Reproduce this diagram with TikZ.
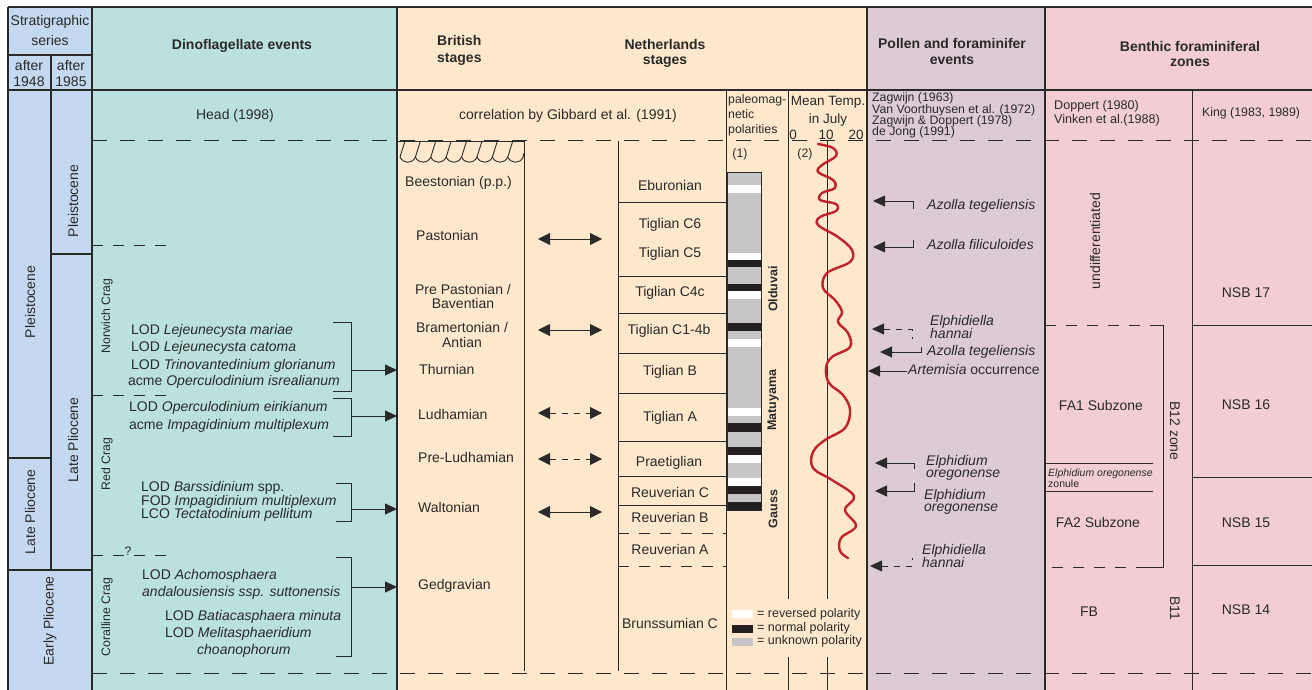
\documentclass[tikz,border=0pt]{standalone}
\usepackage{fontspec}
\setmainfont{Liberation Sans}
\usetikzlibrary{arrows.meta}
\definecolor{ink}{HTML}{2A2A2A}
\definecolor{cblue}{HTML}{C4D8EF}
\definecolor{cteal}{HTML}{BAE1DE}
\definecolor{corange}{HTML}{FFE8CB}
\definecolor{cmauve}{HTML}{DCCBD5}
\definecolor{cpink}{HTML}{F2CED3}
\definecolor{cred}{HTML}{C4222B}
\definecolor{cgray}{HTML}{C6C6C8}
\definecolor{cblack}{HTML}{231F20}
\begin{document}
\begin{tikzpicture}[x=1pt,y=-1pt,
  t/.style={inner sep=0pt, text=ink, font=\fontsize{14}{16}\selectfont},
  tl/.style={t, anchor=mid west},
  tb/.style={inner sep=0pt, text=ink, font=\fontsize{14}{16}\selectfont\bfseries},
  ts/.style={inner sep=0pt, text=ink, font=\fontsize{12.3}{13}\selectfont},
  tsl/.style={ts, anchor=mid west},
  tsb/.style={inner sep=0pt, text=ink, font=\fontsize{12.5}{13}\selectfont\bfseries},
  ti/.style={tl, font=\fontsize{14}{16}\selectfont\itshape},
  ln/.style={draw=ink, line width=0.9pt},
  thk/.style={draw=ink, line width=1.5pt},
  dsh/.style={draw=ink, line width=1pt, dash pattern=on 15pt off 13pt},
  dshs/.style={draw=ink, line width=1pt, dash pattern=on 11pt off 10pt},
  dsha/.style={draw=ink, line width=0.9pt, dash pattern=on 6pt off 6pt},
  tip/.style={-{Triangle[length=12pt,width=11pt]}},
  ttip/.style={{Triangle[length=12pt,width=11pt]}-},
  dtip/.style={{Triangle[length=12pt,width=12pt]}-{Triangle[length=12pt,width=12pt]}}
]
\useasboundingbox (0,0) rectangle (1312,690);
% backgrounds
\fill[white] (0,0) rectangle (1312,690);
\fill[cblue] (8,7) rectangle (92,690);
\fill[cteal] (92,7) rectangle (397,690);
\fill[corange] (397,7) rectangle (867,690);
\fill[cmauve] (867,7) rectangle (1045,690);
\fill[cpink] (1045,7) rectangle (1312,690);

% main frame lines
\draw[thk] (8,7) -- (1312,7);
\draw[thk] (8,90) -- (1312,90);
\draw[thk] (8,7) -- (8,690);
\draw[thk] (92,7) -- (92,690);
\draw[thk] (397,7) -- (397,690);
\draw[thk] (867,7) -- (867,690);
\draw[thk] (1045,7) -- (1045,690);
% stratigraphic series cells
\draw[thk] (8,55) -- (92,55);
\draw[thk] (51,55) -- (51,570);
\draw[thk] (51,254) -- (92,254);
\draw[thk] (8,458) -- (51,458);
\draw[thk] (8,570) -- (92,570);
% inner columns
\draw[ln] (726,90) -- (726,690);
\draw[ln] (788,90) -- (788,599);
\draw[ln] (788,657) -- (788,690);
\draw[ln] (827,141) -- (827,599);
\draw[ln] (827,657) -- (827,690);
\draw[ln] (1192,90) -- (1192,690);
\draw[ln] (524,141) -- (524,671);
\draw[ln] (618,141) -- (618,671);

% long dashed lines
\draw[dsh] (92,141) -- (1312,141);
\draw[dsh] (92,673) -- (1312,673);
% short dashed in dinoflagellate column
\draw[dshs] (92,245) -- (176,245);
\draw[dshs] (92,395) -- (172,395);
\draw[dshs] (92,555) -- (168,555);
\node[ts] (qm) at (128,551) {?};

% header texts
\node[t] (h1a) at (50,22) {Stratigraphic};
\node[t] (h1b) at (50,40) {series};
\node[t] (h2a) at (29,66) {after};
\node[t] (h2b) at (29,82) {1948};
\node[t] (h3a) at (71,66) {after};
\node[t] (h3b) at (71,82) {1985};
\node[tb] (hd) at (242,46) {Dinoflagellate events};
\node[tb, anchor=mid west] (hbr1) at (437,43) {British};
\node[tb, anchor=mid west] (hbr2) at (437,60) {stages};
\node[tb] (hnl1) at (665,44) {Netherlands};
\node[tb] (hnl2) at (665,61) {stages};
\node[tb] (hpo1) at (952,43) {Pollen and foraminifer};
\node[tb] (hpo2) at (952,60) {events};
\node[tb] (hbe1) at (1190,46) {Benthic foraminiferal};
\node[tb] (hbe2) at (1190,63) {zones};

% second header row
\node[t] (head) at (235,116) {Head (1998)};
\node[t] (gib) at (568,116) {correlation by Gibbard et al. (1991)};
\node[tsl] (pm1) at (728,101) {paleomag-};
\node[tsl] (pm2) at (728,116) {netic};
\node[tsl] (pm3) at (728,131) {polarities};
\node[t, font=\fontsize{13.5}{15}\selectfont] (mt1) at (828,102) {Mean Temp.};
\node[t, font=\fontsize{13.5}{15}\selectfont] (mt2) at (828,120) {in July};
\node[t, font=\fontsize{13.5}{15}\selectfont] (s0) at (793,135) {0};
\node[t, font=\fontsize{13.5}{15}\selectfont] (s10) at (826,135) {10};
\node[t, font=\fontsize{13.5}{15}\selectfont] (s20) at (856,135) {20};
\node[tsl] (z1) at (872,99) {Zagwijn (1963)};
\node[tsl] (z2) at (872,110.5) {Van Voorthuysen et al. (1972)};
\node[tsl] (z3) at (872,122) {Zagwijn \& Doppert (1978)};
\node[tsl] (z4) at (872,133) {de Jong (1991)};
\node[tsl, font=\fontsize{12.6}{13}\selectfont] (dp1) at (1054,107) {Doppert (1980)};
\node[tsl, font=\fontsize{12.6}{13}\selectfont] (dp2) at (1054,121) {Vinken et al.(1988)};
\node[tsl] (king) at (1202,114) {King (1983, 1989)};

% stratigraphic series labels
\node[t, rotate=90] (ps1) at (30,302) {Pleistocene};
\node[t, rotate=90] (ps2) at (73,201) {Pleistocene};
\node[t, rotate=90] (lp1) at (30,512) {Late Pliocene};
\node[t, rotate=90] (lp2) at (73,440) {Late Pliocene};
\node[t, rotate=90] (ep) at (50,621) {Early Pliocene};

% crags
\node[ts, rotate=90] (nc) at (107,316) {Norwich Crag};
\node[ts, rotate=90] (rdc) at (107,464) {Red Crag};
\node[ts, rotate=90] (cc) at (107,617) {Coralline Crag};

% dinoflagellate events
\node[tl] (d11) at (131,332) {LOD \textit{Lejeunecysta mariae}};
\node[tl] (d12) at (131,349) {LOD \textit{Lejeunecysta catoma}};
\node[tl] (d13) at (131,367) {LOD \textit{Trinovantedinium glorianum}};
\node[tl] (d14) at (128,383) {acme \textit{Operculodinium isrealianum}};
\node[tl] (d21) at (129,409) {LOD \textit{Operculodinium eirikianum}};
\node[tl] (d22) at (129,427) {acme \textit{Impagidinium multiplexum}};
\node[tl] (d31) at (141,489) {LOD \textit{Barssidinium} spp.};
\node[tl] (d32) at (141,502.5) {FOD \textit{Impagidinium multiplexum}};
\node[tl] (d33) at (141,516) {LCO \textit{Tectatodinium pellitum}};
\node[tl] (d41) at (142,577) {LOD \textit{Achomosphaera}};
\node[tl] (d42) at (142,594) {\textit{andalousiensis ssp. suttonensis}};
\node[tl] (d43) at (165,618) {LOD \textit{Batiacasphaera minuta}};
\node[tl] (d44) at (165,635) {LOD \textit{Melitasphaeridium}};
\node[tl] (d45) at (197,652) {\textit{choanophorum}};
% brackets and arrows
\coordinate (b1) at (351,370); \coordinate (e1) at (397,370);
\coordinate (b2) at (351,416); \coordinate (e2) at (397,416);
\coordinate (b3) at (351,509); \coordinate (e3) at (397,509);
\coordinate (b4) at (351,587); \coordinate (e4) at (397,587);
\draw[ln] (333,322) -- (351,322) -- (351,391) -- (333,391);
\draw[ln] (333,398) -- (351,398) -- (351,436) -- (333,436);
\draw[ln] (336,483) -- (351,483) -- (351,521) -- (336,521);
\draw[ln] (336,557) -- (351,557) -- (351,656) -- (336,656);
\draw[ln, tip] (b1) -- (e1);
\draw[ln, tip] (b2) -- (e2);
\draw[ln, tip] (b3) -- (e3);
\draw[ln, tip] (b4) -- (e4);

% hatch at top of British stages
\draw[ln] (397,141) -- (524,141);
\foreach \i in {0,...,7} {
  \draw[ln] ({400+15.4*\i},157) .. controls ({403+15.4*\i},164) and ({412.4+15.4*\i},164) .. ({415.4+15.4*\i},157);
  \draw[ln] ({400+15.4*\i},157) -- ({405+15.4*\i},141);
}
\draw[ln] (523,157) -- (524,153);

% British stages
\node[tl] (bees) at (405,184) {Beestonian (p.p.)};
\node[tl] (past) at (416,238) {Pastonian};
\node[t] (prep1) at (463,289) {Pre Pastonian /};
\node[t] (prep2) at (463,303) {Baventian};
\node[t] (bram1) at (462,327) {Bramertonian /};
\node[t] (bram2) at (462,342) {Antian};
\node[tl] (thur) at (419,372) {Thurnian};
\node[tl] (ludh) at (418,417) {Ludhamian};
\node[tl] (preludh) at (418,460) {Pre-Ludhamian};
\node[tl] (walt) at (418,510) {Waltonian};
\node[tl] (gedg) at (418,587) {Gedgravian};

% correlation arrows
\coordinate (l1) at (538,239); \coordinate (r1) at (602,239);
\coordinate (l2) at (538,330); \coordinate (r2) at (602,330);
\coordinate (l3) at (538,413); \coordinate (r3) at (602,413);
\coordinate (l4) at (538,459); \coordinate (r4) at (602,459);
\coordinate (l5) at (538,512); \coordinate (r5) at (602,512);
\draw[ln, dtip] (l1) -- (r1);
\draw[ln, dtip] (l2) -- (r2);
\draw[dsha, dtip] (l3) -- (r3);
\draw[dsha, dtip] (l4) -- (r4);
\draw[ln, dtip] (l5) -- (r5);

% Netherlands stages
\foreach \yy in {202,276,313,353,393,441,476,505} \draw[ln] (618,\yy) -- (726,\yy);
\draw[dshs] (618,533) -- (726,533);
\draw[dshs] (618,566) -- (726,566);
\node[t] (ebu) at (670,185) {Eburonian};
\node[t] (c6) at (670,225) {Tiglian C6};
\node[t] (c5) at (670,254) {Tiglian C5};
\node[t] (c4c) at (670,293) {Tiglian C4c};
\node[t] (c14) at (669,331) {Tiglian C1-4b};
\node[t] (tgb) at (670,372) {Tiglian B};
\node[t] (tga) at (670,418) {Tiglian A};
\node[t] (pra) at (669,463) {Praetiglian};
\node[t] (rvc) at (670,492) {Reuverian C};
\node[t] (rvb) at (670,517) {Reuverian B};
\node[t] (rva) at (670,549) {Reuverian A};
\node[t] (bc) at (670,623) {Brunssumian C};

% paleomagnetic column
\node[ts] (n1) at (740,154) {(1)};
\node[ts] (n2) at (805,154) {(2)};
\fill[cgray] (727,172) rectangle (761,510);
\foreach \a/\b in {185/193,253/260,291/299,339/347,408/416,455/463,478/486}
  \fill[white] (727,\a) rectangle (761,\b);
\foreach \a/\b in {260/267,284/291,323/331,423/432,447/455,486/494,502/510}
  \fill[cblack] (727,\a) rectangle (761,\b);
\draw[draw=ink, line width=0.7pt] (727,172) rectangle (761,510);
\node[tsb, rotate=90] (old) at (773,289) {Olduvai};
\node[tsb, rotate=90] (mat) at (773,400) {Matuyama};
\node[tsb, rotate=90] (gau) at (773,509) {Gauss};
% legend
\fill[white] (732,610) rectangle (753,618);
\fill[cblack] (732,625) rectangle (753,633);
\fill[cgray] (732,638) rectangle (753,646);
\node[tsl, font=\fontsize{12.5}{13}\selectfont] (lg1) at (757,615) {= reversed polarity};
\node[tsl, font=\fontsize{12.5}{13}\selectfont] (lg2) at (757,629) {= normal polarity};
\node[tsl, font=\fontsize{12.5}{13}\selectfont] (lg3) at (757,642) {= unknown polarity};

% temperature curve
\draw[cred, line width=2.4pt, line cap=round, line join=round] plot[smooth, tension=0.6] coordinates {
(818,144) (833,148) (836,156) (822,165) (818,172) (833,180) (835,188) (822,193) (820,200) (836,204) (836,211) (820,217) (818,225) (838,237) (852,250) (850,262) (827,273) (823,288) (835,300) (842,312) (838,322) (848,333) (850,347) (832,357) (826,368) (829,383) (843,395) (850,410) (845,428) (825,440) (813,452) (813,468) (832,480) (854,496) (845,510) (856,526) (841,538) (840,551) (848,558)};

% pollen and foraminifer events
\node[ti] (az1) at (927,207) {Azolla tegeliensis};
\node[ti] (az2) at (927,247) {Azolla filiculoides};
\node[ti] (eh1a) at (930,323) {Elphidiella};
\node[ti] (eh1b) at (930,336) {hannai};
\node[ti] (az3) at (927,353) {Azolla tegeliensis};
\node[tl] (art) at (908,372) {\textit{Artemisia} occurrence};
\node[ti] (eo1a) at (926,462.5) {Elphidium};
\node[ti] (eo1b) at (926,474.5) {oregonense};
\node[ti] (eo2a) at (924,496.5) {Elphidium};
\node[ti] (eo2b) at (924,509) {oregonense};
\node[ti] (eh2a) at (922,552) {Elphidiella};
\node[ti] (eh2b) at (922,564.5) {hannai};
\draw[ln, ttip] (873,201) -- (913,201) -- (913,209);
\draw[ln, ttip] (873,247) -- (913,247) -- (913,240);
\draw[dsha, ttip] (872,329) -- (912,329) -- (912,339);
\draw[ln, ttip] (880,352) -- (921,352) -- (921,347);
\draw[ln, ttip] (868,371) -- (907,371);
\draw[ln, ttip] (875,463) -- (914,463) -- (914,469);
\draw[ln, ttip] (875,491) -- (914,491) -- (914,483);
\draw[dsha, ttip] (870,566) -- (912,566) -- (912,558);

% benthic foraminiferal zones
\node[t, rotate=90] (undiff) at (1095,241) {undifferentiated};
\draw[dshs] (1045,325) -- (1150,325);
\draw[ln] (1150,325) -- (1163,325) -- (1163,567) -- (1147,567);
\draw[dshs] (1147,567) -- (1045,567);
\draw[ln] (1045,463) -- (1153,463);
\draw[ln] (1045,491) -- (1153,491);
\node[t] (fa1) at (1101,405) {FA1 Subzone};
\node[inner sep=0pt, text=ink, anchor=mid west, font=\fontsize{10.5}{11}\selectfont\itshape] (eoz1) at (1048,474) {Elphidium oregonense};
\node[inner sep=0pt, text=ink, anchor=mid west, font=\fontsize{10.5}{11}\selectfont] (eoz2) at (1048,485) {zonule};
\node[t] (fa2) at (1098,522) {FA2 Subzone};
\node[t] (fb) at (1089,612) {FB};
\node[t, rotate=-90] (b12) at (1175,431) {B12 zone};
\node[t, rotate=-90] (b11) at (1175,608) {B11};
\draw[ln] (1192,325) -- (1312,325);
\draw[ln] (1192,477) -- (1312,477);
\draw[ln] (1192,565) -- (1312,565);
\node[t] (nsb17) at (1246,293) {NSB 17};
\node[t] (nsb16) at (1246,405) {NSB 16};
\node[t] (nsb15) at (1246,523) {NSB 15};
\node[t] (nsb14) at (1246,610) {NSB 14};
\end{tikzpicture}
\end{document}
